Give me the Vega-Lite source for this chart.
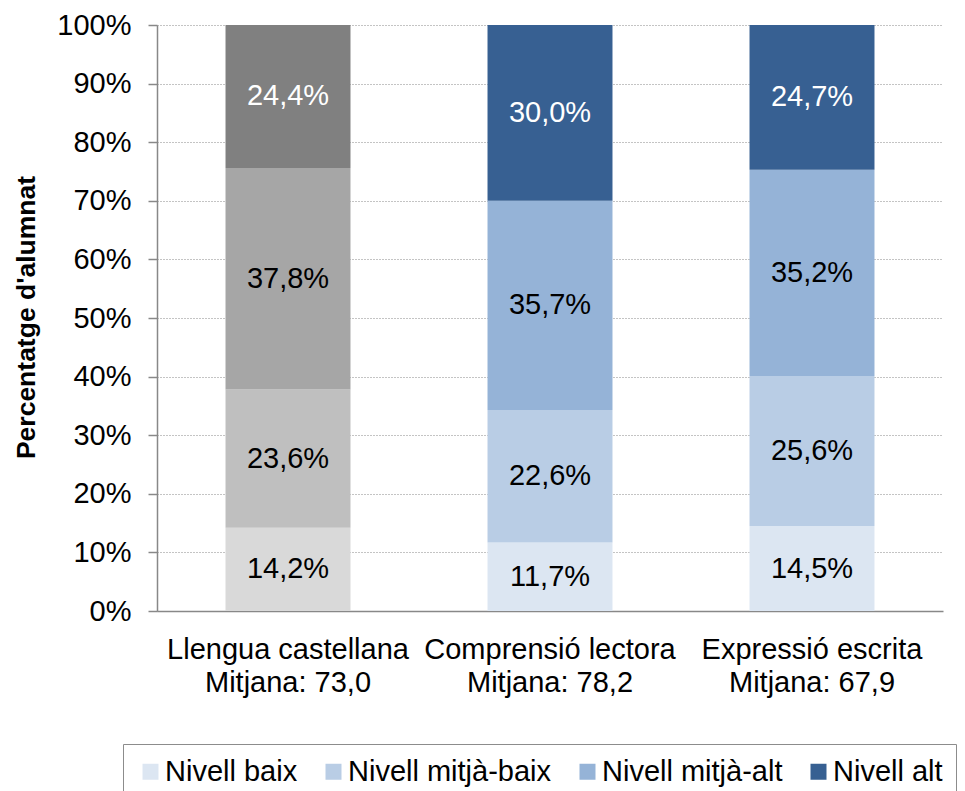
{
  "$schema": "https://vega.github.io/schema/vega-lite/v6.json",
  "width": 786,
  "height": 586,
  "autosize": {"type": "none"},
  "padding": {"left": 157, "top": 25, "right": 22, "bottom": 180},
  "background": "white",
  "config": {
    "view": {"stroke": null},
    "font": "Liberation Sans",
    "locale": {"number": {"decimal": ",", "thousands": ".", "grouping": [3], "currency": ["", " €"]}}
  },
  "data": {
    "values": [
      {"grup": "Llengua castellana\nMitjana: 73,0", "nivell": "Nivell baix", "ordre": 1, "valor": 0.142},
      {"grup": "Llengua castellana\nMitjana: 73,0", "nivell": "Nivell mitjà-baix", "ordre": 2, "valor": 0.236},
      {"grup": "Llengua castellana\nMitjana: 73,0", "nivell": "Nivell mitjà-alt", "ordre": 3, "valor": 0.378},
      {"grup": "Llengua castellana\nMitjana: 73,0", "nivell": "Nivell alt", "ordre": 4, "valor": 0.244},
      {"grup": "Comprensió lectora\nMitjana: 78,2", "nivell": "Nivell baix", "ordre": 1, "valor": 0.117},
      {"grup": "Comprensió lectora\nMitjana: 78,2", "nivell": "Nivell mitjà-baix", "ordre": 2, "valor": 0.226},
      {"grup": "Comprensió lectora\nMitjana: 78,2", "nivell": "Nivell mitjà-alt", "ordre": 3, "valor": 0.357},
      {"grup": "Comprensió lectora\nMitjana: 78,2", "nivell": "Nivell alt", "ordre": 4, "valor": 0.300},
      {"grup": "Expressió escrita\nMitjana: 67,9", "nivell": "Nivell baix", "ordre": 1, "valor": 0.145},
      {"grup": "Expressió escrita\nMitjana: 67,9", "nivell": "Nivell mitjà-baix", "ordre": 2, "valor": 0.256},
      {"grup": "Expressió escrita\nMitjana: 67,9", "nivell": "Nivell mitjà-alt", "ordre": 3, "valor": 0.352},
      {"grup": "Expressió escrita\nMitjana: 67,9", "nivell": "Nivell alt", "ordre": 4, "valor": 0.247}
    ]
  },
  "encoding": {
    "x": {
      "field": "grup", "type": "nominal", "title": null,
      "scale": {"domain": ["Llengua castellana\nMitjana: 73,0", "Comprensió lectora\nMitjana: 78,2", "Expressió escrita\nMitjana: 67,9"], "paddingInner": 0.523, "paddingOuter": 0.2615},
      "axis": {"labelAngle": 0, "labelFontSize": 29, "labelColor": "black", "labelFont": "Liberation Sans", "labelLimit": 0, "labelOverlap": false, "ticks": false, "tickSize": 0, "domainColor": "#888888", "domainWidth": 1.5, "labelPadding": 24, "labelLineHeight": 33, "labelExpr": "split(datum.label, '\\n')", "grid": false}
    },
    "order": {"field": "ordre", "type": "quantitative"}
  },
  "layer": [
    {
      "transform": [{"filter": {"not": {"field": "grup", "equal": "Llengua castellana\nMitjana: 73,0"}}}],
      "mark": {"type": "bar", "opacity": 1},
      "encoding": {
        "y": {
          "field": "valor", "type": "quantitative", "stack": "zero", "title": "Percentatge d'alumnat",
          "scale": {"domain": [0, 1]},
          "axis": {"format": ".0%", "values": [0, 0.1, 0.2, 0.3, 0.4, 0.5, 0.6, 0.7, 0.8, 0.9, 1], "labelFontSize": 29, "labelColor": "black", "labelFont": "Liberation Sans", "labelPadding": 17, "tickSize": 9, "tickColor": "#888888", "tickWidth": 1.5, "domainColor": "#888888", "domainWidth": 1.5, "gridColor": "#888888", "gridDash": [1, 2], "gridWidth": 1, "titleFontSize": 26.5, "titleFont": "Liberation Sans", "titleFontWeight": "bold", "titleColor": "black", "titleX": -131, "titleY": 292, "titleAngle": -90, "titleAlign": "center", "titleBaseline": "middle"}
        },
        "color": {
          "field": "nivell", "type": "nominal",
          "scale": {"domain": ["Nivell baix", "Nivell mitjà-baix", "Nivell mitjà-alt", "Nivell alt"], "range": ["#DCE6F2", "#B9CDE5", "#95B3D7", "#376092"]},
          "legend": {"orient": "none", "legendX": -34, "legendY": 719, "direction": "horizontal", "columns": 4, "title": null, "symbolType": "square", "symbolSize": 256, "symbolStrokeWidth": 0, "symbolOpacity": 1, "labelFontSize": 29, "labelFont": "Liberation Sans", "labelColor": "black", "labelLimit": 0, "columnPadding": 21, "labelOffset": 0, "padding": 13, "strokeColor": "#8c8c8c"}
        }
      }
    },
    {
      "transform": [{"filter": {"field": "grup", "equal": "Llengua castellana\nMitjana: 73,0"}}],
      "mark": {"type": "bar", "opacity": 1},
      "encoding": {
        "y": {
          "field": "valor", "type": "quantitative", "stack": "zero", "title": "Percentatge d'alumnat",
          "scale": {"domain": [0, 1]},
          "axis": {"format": ".0%", "values": [0, 0.1, 0.2, 0.3, 0.4, 0.5, 0.6, 0.7, 0.8, 0.9, 1], "labelFontSize": 29, "labelColor": "black", "labelFont": "Liberation Sans", "labelPadding": 17, "tickSize": 9, "tickColor": "#888888", "tickWidth": 1.5, "domainColor": "#888888", "domainWidth": 1.5, "gridColor": "#888888", "gridDash": [1, 2], "gridWidth": 1, "titleFontSize": 26.5, "titleFont": "Liberation Sans", "titleFontWeight": "bold", "titleColor": "black", "titleX": -131, "titleY": 292, "titleAngle": -90, "titleAlign": "center", "titleBaseline": "middle"}
        },
        "color": {
          "field": "nivell", "type": "nominal",
          "scale": {"domain": ["Nivell baix", "Nivell mitjà-baix", "Nivell mitjà-alt", "Nivell alt"], "range": ["#D9D9D9", "#BFBFBF", "#A6A6A6", "#808080"]},
          "legend": null
        }
      }
    },
    {
      "mark": {"type": "text", "fontSize": 29, "font": "Liberation Sans", "baseline": "middle", "align": "center"},
      "encoding": {
        "y": {
          "field": "valor", "type": "quantitative", "stack": "zero", "bandPosition": 0.5, "title": "Percentatge d'alumnat",
          "scale": {"domain": [0, 1]},
          "axis": {"format": ".0%", "values": [0, 0.1, 0.2, 0.3, 0.4, 0.5, 0.6, 0.7, 0.8, 0.9, 1], "labelFontSize": 29, "labelColor": "black", "labelFont": "Liberation Sans", "labelPadding": 17, "tickSize": 9, "tickColor": "#888888", "tickWidth": 1.5, "domainColor": "#888888", "domainWidth": 1.5, "gridColor": "#888888", "gridDash": [1, 2], "gridWidth": 1, "titleFontSize": 26.5, "titleFont": "Liberation Sans", "titleFontWeight": "bold", "titleColor": "black", "titleX": -131, "titleY": 292, "titleAngle": -90, "titleAlign": "center", "titleBaseline": "middle"}
        },
        "detail": {"field": "nivell", "type": "nominal"},
        "text": {"field": "valor", "type": "quantitative", "format": ".1%"},
        "color": {"condition": {"test": "datum.nivell === 'Nivell alt'", "value": "white"}, "value": "black"}
      }
    }
  ],
  "resolve": {"scale": {"color": "independent"}}
}
